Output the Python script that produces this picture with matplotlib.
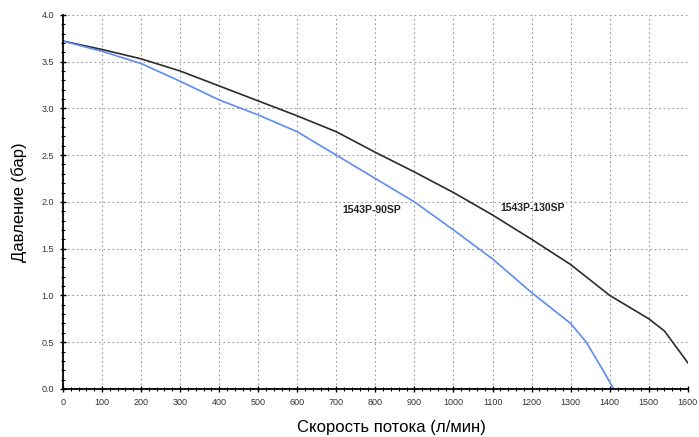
import matplotlib
matplotlib.use("Agg")
import matplotlib.pyplot as plt
from matplotlib.ticker import MultipleLocator, FormatStrFormatter

plt.rcParams['font.family'] = ['Liberation Sans', 'DejaVu Sans']

# flow (l/min) and pressure (bar)
flow_130 = [0, 100, 200, 300, 400, 500, 600, 700, 800, 900, 1000, 1100, 1200, 1300, 1400, 1500, 1540, 1600]
press_130 = [3.72, 3.63, 3.53, 3.40, 3.24, 3.08, 2.92, 2.75, 2.53, 2.32, 2.10, 1.86, 1.60, 1.33, 1.00, 0.75, 0.62, 0.28]

flow_90 = [0, 100, 200, 300, 400, 500, 600, 700, 800, 900, 1000, 1100, 1200, 1300, 1340, 1380, 1410]
press_90 = [3.72, 3.61, 3.48, 3.29, 3.09, 2.93, 2.75, 2.50, 2.25, 2.00, 1.70, 1.39, 1.03, 0.70, 0.50, 0.22, 0.0]

labels = ["1543P-90SP", "1543P-130SP"]
label_pos = [(792, 1.91), (1202, 1.93)]

fig = plt.figure(figsize=(6.99, 4.37), dpi=100)
ax = fig.add_axes([0.090, 0.110, 0.894, 0.856])

ax.plot(flow_130, press_130, color="#2b2b2b", lw=1.2)
ax.plot(flow_90, press_90, color="#5b8cf5", lw=1.2)

for txt, (x, y) in zip(labels, label_pos):
    ax.text(x, y, txt, fontsize=7.5, fontweight="bold", ha="center", va="center", color="#222222")

ax.set_xlim(0, 1600)
ax.set_ylim(0, 4.0)
ax.xaxis.set_major_locator(MultipleLocator(100))
ax.xaxis.set_minor_locator(MultipleLocator(20))
ax.yaxis.set_major_locator(MultipleLocator(0.5))
ax.yaxis.set_minor_locator(MultipleLocator(0.1))
ax.yaxis.set_major_formatter(FormatStrFormatter("%.1f"))

ax.grid(True, which="major", linestyle=(0, (1.5, 2.5)), color="#999999", lw=0.8)
ax.spines["top"].set_visible(False)
ax.spines["right"].set_visible(False)
ax.spines["left"].set_linewidth(1.3)
ax.spines["bottom"].set_linewidth(1.3)

ax.tick_params(which="major", direction="inout", length=5, width=1, labelsize=6.5, labelcolor="#333333", pad=4)
ax.tick_params(which="minor", direction="inout", length=3, width=0.8)

ax.set_xlabel("Скорость потока (л/мин)", fontsize=12)
ax.xaxis.set_label_coords(0.525, -0.082)
ax.set_ylabel("Давление (бар)", fontsize=12, labelpad=10)

fig.savefig("out.png", dpi=100)
